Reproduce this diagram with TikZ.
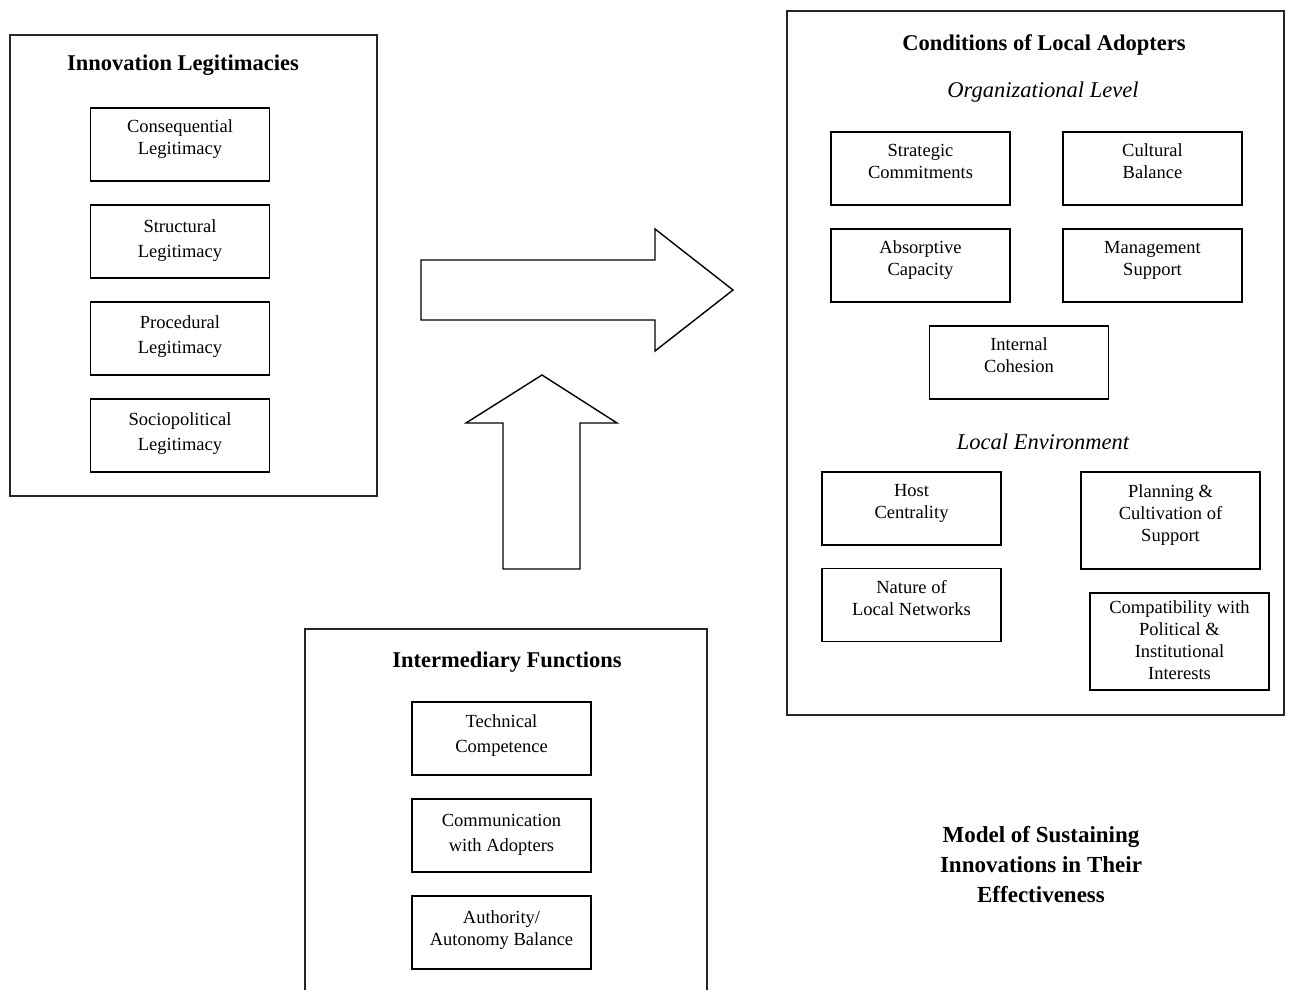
\documentclass[tikz,border=0pt]{standalone}
\usepackage{fontspec}
\setmainfont{Liberation Serif}

\begin{document}
\begin{tikzpicture}[x=1pt,y=-1pt,
  frame/.style={line width=1.1pt,draw=black!85},
  box/.style={draw,line width=1.6pt,minimum width=179pt,minimum height=73pt,align=center,inner sep=0pt,text depth=14pt,font=\fontsize{18.5}{22}\selectfont},
  tallbox/.style={box,minimum height=97pt},
  wide/.style={font=\fontsize{18.5}{25}\selectfont},
  heading/.style={font=\bfseries\fontsize{22.5}{27}\selectfont},
  level/.style={font=\itshape\fontsize{22.5}{27}\selectfont},
  blockarrow/.style={line width=1.4pt,line join=miter}]
\useasboundingbox (0,0) rectangle (1295,990);

\draw[frame] (10,35) rectangle (377,496);
\node[heading] (legit) at (183,65) {Innovation Legitimacies};
\node[box] (conseq) at (180,144.5) {Consequential\\Legitimacy};
\node[box,wide,text depth=5pt] (struct) at (180,241.5) {Structural\\Legitimacy};
\node[box,wide,text depth=7pt] (proced) at (180,338.5) {Procedural\\Legitimacy};
\node[box,wide,text depth=7pt] (sociop) at (180,435.5) {Sociopolitical\\Legitimacy};

\draw[frame] (787,11) rectangle (1284,715);
\node[heading] (cond) at (1044,45) {Conditions of Local Adopters};
\node[level] (orglev) at (1043,92) {Organizational Level};
\node[box] (strat) at (920.5,168.5) {Strategic\\Commitments};
\node[box] (cult) at (1152.5,168.5) {Cultural\\Balance};
\node[box] (absorb) at (920.5,265.5) {Absorptive\\Capacity};
\node[box] (manage) at (1152.5,265.5) {Management\\Support};
\node[box] (cohes) at (1019,362.5) {Internal\\Cohesion};
\node[level] (locenv) at (1043,442) {Local Environment};
\node[box] (host) at (911.5,508.5) {Host\\Centrality};
\node[tallbox] (plan) at (1170.5,520.5) {Planning \&\\Cultivation of\\Support};
\node[box] (nature) at (911.5,605) {Nature of\\Local Networks};
\node[tallbox,text depth=2pt] (compat) at (1179.5,641.5) {Compatibility with\\Political \&\\Institutional\\Interests};

\draw[frame] (305,990) -- (305,629) -- (707,629) -- (707,990);
\node[heading] (interm) at (507,662) {Intermediary Functions};
\node[box,wide,text depth=10pt] (tech) at (501.5,738.5) {Technical\\Competence};
\node[box,wide,text depth=5pt] (comm) at (501.5,835.5) {Communication\\with Adopters};
\node[box,text depth=8pt] (auth) at (501.5,932.5) {Authority/\\Autonomy Balance};

\draw[blockarrow] (421,260) -- (655,260) -- (655,229) -- (733,290) -- (655,351) -- (655,320) -- (421,320) -- cycle;
\draw[blockarrow] (503,569) -- (503,423) -- (466,423) -- (542,375) -- (617,423) -- (580,423) -- (580,569) -- cycle;

\node[heading,align=center,font=\bfseries\fontsize{23}{30}\selectfont] (model) at (1041,865) {Model of Sustaining\\Innovations in Their\\Effectiveness};
\end{tikzpicture}
\end{document}
